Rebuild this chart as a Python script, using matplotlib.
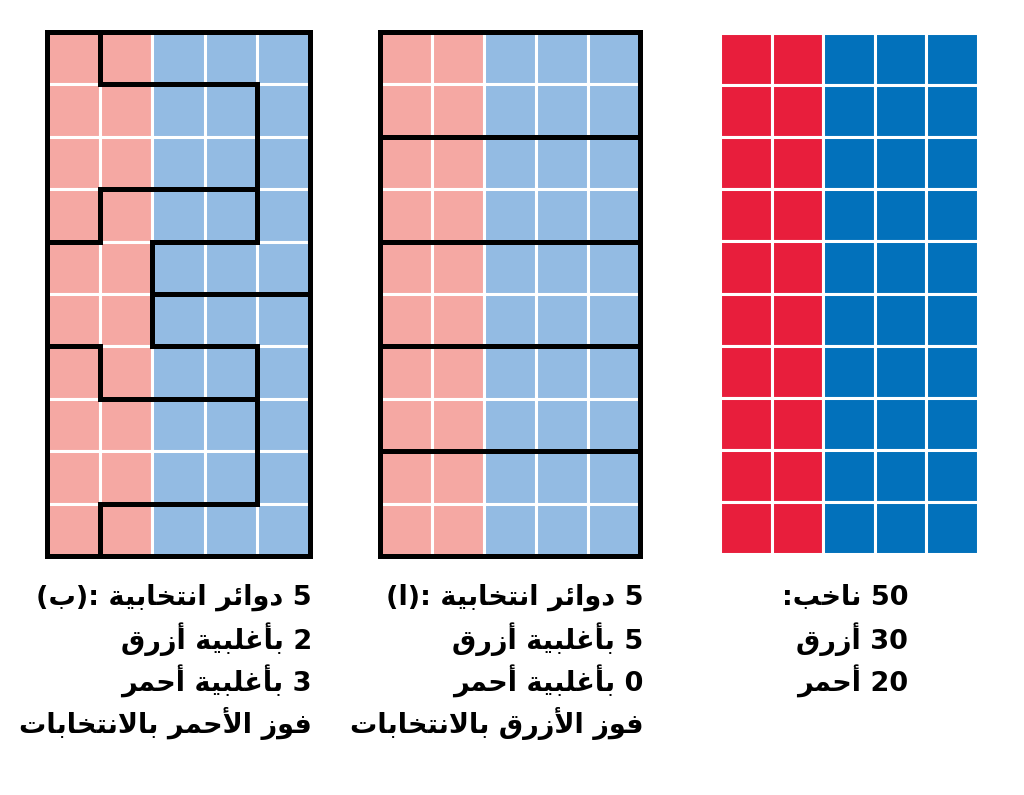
import matplotlib
matplotlib.use("Agg")
import matplotlib.pyplot as plt
from matplotlib.patches import Rectangle

# voter colours per cell: R = red, B = blue (same for every panel)
voters = ["RRBBB"] * 10

# district ids per cell
districts_b = ["ABBBB",
               "AAAAB",
               "AAAAB",
               "AEEEB",
               "EEBBB",
               "EEDDD",
               "CEEED",
               "CCCCD",
               "CCCCD",
               "CDDDD"]
districts_a = [str(r // 2) * 5 for r in range(10)]

label_b = ["5 دوائر انتخابية :(ب)", "2 بأغلبية أزرق", "3 بأغلبية أحمر", "فوز الأحمر بالانتخابات"]
label_a = ["5 دوائر انتخابية :(ا)", "5 بأغلبية أزرق", "0 بأغلبية أحمر", "فوز الأزرق بالانتخابات"]
label_v = ["50 ناخب:", "30 أزرق", "20 أحمر"]

# --- tiny arabic shaper (presentation forms B) ---
FORMS = {'ء': (0xFE80, 1), 'آ': (0xFE81, 2), 'أ': (0xFE83, 2), 'ؤ': (0xFE85, 2), 'إ': (0xFE87, 2),
         'ئ': (0xFE89, 4), 'ا': (0xFE8D, 2), 'ب': (0xFE8F, 4), 'ة': (0xFE93, 2), 'ت': (0xFE95, 4),
         'ث': (0xFE99, 4), 'ج': (0xFE9D, 4), 'ح': (0xFEA1, 4), 'خ': (0xFEA5, 4), 'د': (0xFEA9, 2),
         'ذ': (0xFEAB, 2), 'ر': (0xFEAD, 2), 'ز': (0xFEAF, 2), 'س': (0xFEB1, 4), 'ش': (0xFEB5, 4),
         'ص': (0xFEB9, 4), 'ض': (0xFEBD, 4), 'ط': (0xFEC1, 4), 'ظ': (0xFEC5, 4), 'ع': (0xFEC9, 4),
         'غ': (0xFECD, 4), 'ف': (0xFED1, 4), 'ق': (0xFED5, 4), 'ك': (0xFED9, 4), 'ل': (0xFEDD, 4),
         'م': (0xFEE1, 4), 'ن': (0xFEE5, 4), 'ه': (0xFEE9, 4), 'و': (0xFEED, 2), 'ى': (0xFEEF, 2),
         'ي': (0xFEF1, 4)}
LAMALEF = {'آ': 0xFEF5, 'أ': 0xFEF7, 'إ': 0xFEF9, 'ا': 0xFEFB}


def shape(s):
    out = []
    i = 0
    n = len(s)
    while i < n:
        c = s[i]
        if c not in FORMS:
            out.append(c)
            i += 1
            continue
        prev_join = i > 0 and s[i - 1] in FORMS and FORMS[s[i - 1]][1] == 4
        if c == 'ل' and i + 1 < n and s[i + 1] in LAMALEF:
            out.append(chr(LAMALEF[s[i + 1]] + (1 if prev_join else 0)))
            i += 2
            continue
        base, nf = FORMS[c]
        next_join = i + 1 < n and s[i + 1] in FORMS
        if nf == 1:
            out.append(chr(base))
        elif nf == 2:
            out.append(chr(base + (1 if prev_join else 0)))
        else:
            if prev_join and next_join:
                out.append(chr(base + 3))
            elif prev_join:
                out.append(chr(base + 1))
            elif next_join:
                out.append(chr(base + 2))
            else:
                out.append(chr(base))
        i += 1
    # visual order: reverse, keep digit runs LTR, mirror brackets
    rev = ''.join(out)[::-1]
    res, run = [], ''
    for ch in rev:
        if ch.isdigit():
            run += ch
        else:
            res.append(run[::-1])
            run = ''
            res.append({'(': ')', ')': '('}.get(ch, ch))
    res.append(run[::-1])
    return ''.join(res)


LRED, LBLUE = "#f5a8a3", "#93bbe3"
RED, BLUE = "#e81e3c", "#0271bb"

fig = plt.figure(figsize=(10.24, 7.95), dpi=100)
ax = fig.add_axes([0, 0, 1, 1])
ax.set_xlim(0, 1024)
ax.set_ylim(795, 0)
ax.axis("off")


def draw_grid(x0, y0, w, h, cols, dmap):
    cw, ch = w / 5, h / 10
    for r in range(10):
        for c in range(5):
            col = cols[0] if voters[r][c] == "R" else cols[1]
            ax.add_patch(Rectangle((x0 + c * cw, y0 + r * ch), cw, ch, facecolor=col,
                                   edgecolor="white", linewidth=2.2))
    if dmap is None:
        return
    lw = 3.6
    for r in range(10):
        for c in range(5):
            if c < 4 and dmap[r][c] != dmap[r][c + 1]:
                ax.plot([x0 + (c + 1) * cw] * 2, [y0 + r * ch, y0 + (r + 1) * ch],
                        color="black", lw=lw, solid_capstyle="projecting")
            if r < 9 and dmap[r][c] != dmap[r + 1][c]:
                ax.plot([x0 + c * cw, x0 + (c + 1) * cw], [y0 + (r + 1) * ch] * 2,
                        color="black", lw=lw, solid_capstyle="projecting")
    ax.add_patch(Rectangle((x0, y0), w, h, fill=False, edgecolor="black", linewidth=lw))


draw_grid(47, 32, 263, 524, (LRED, LBLUE), districts_b)
draw_grid(380, 32, 260, 524, (LRED, LBLUE), districts_a)
draw_grid(720, 33, 258, 521, (RED, BLUE), None)


def draw_label(lines, xr, y0):
    for k, t in enumerate(lines):
        ax.text(xr, y0 + k * 42, shape(t), ha="right", va="center", fontsize=19.5,
                fontweight="bold", family="DejaVu Sans")


draw_label(label_b, 312, 597)
draw_label(label_a, 643, 597)
draw_label(label_v, 908, 597)

fig.savefig("out.png", dpi=100)
